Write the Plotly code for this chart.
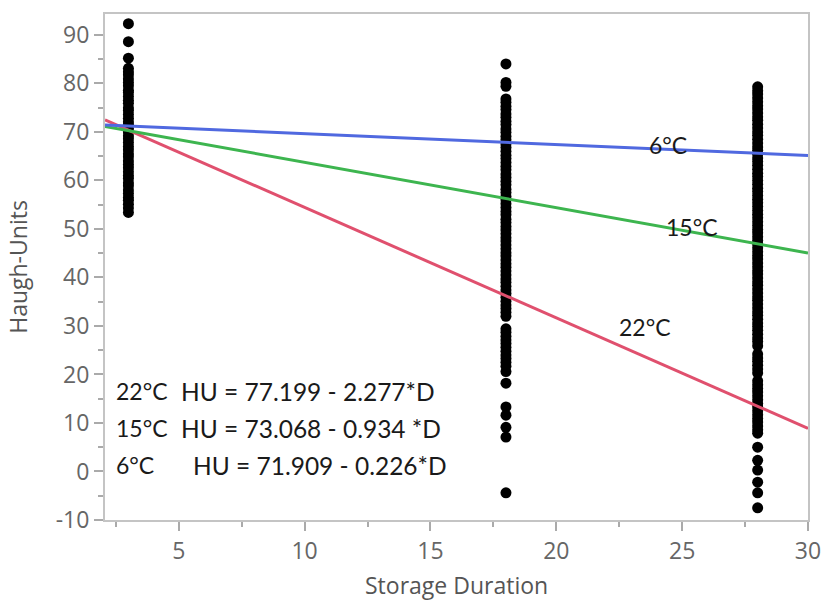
import plotly.graph_objects as go

# ---- data ----
durations = [3, 18, 28]

hu_day3 = [92.3, 88.6, 85.2, 83.1, 82.4, 81.8, 80.9, 80.2, 79.5, 78.6, 78.1, 77.3,
           76.5, 75.9, 75.0, 74.4, 73.6, 72.8, 72.1, 71.5, 70.7, 70.0, 69.2, 68.6,
           67.8, 67.0, 66.3, 65.5, 64.9, 64.0, 63.3, 62.6, 61.8, 61.0, 60.4, 59.5,
           58.9, 58.0, 57.3, 56.5, 55.9, 55.1, 54.3, 53.4]

hu_day18 = [84.0, 80.2, 79.4, 76.8, 76.1, 75.3, 74.6, 73.7, 73.0, 72.2, 71.5, 70.6,
            69.9, 69.1, 68.4, 67.5, 66.8, 66.0, 65.2, 64.5, 63.7, 62.9, 62.2, 61.3,
            60.6, 59.8, 59.1, 58.2, 57.5, 56.7, 56.0, 55.2, 54.4, 53.6, 52.9, 52.0,
            51.3, 50.5, 49.8, 49.0, 48.2, 47.5, 46.7, 45.9, 45.1, 44.4, 43.6, 42.8,
            42.1, 41.3, 40.5, 39.7, 39.0, 38.2, 37.4, 36.7, 35.9, 35.1, 34.3, 33.6,
            32.8, 32.0, 29.4, 28.7, 27.9, 27.1, 26.4, 25.6, 24.8, 24.0, 23.3, 22.5,
            21.7, 20.6, 18.2, 13.3, 11.6, 9.1, 7.1, -4.4]

hu_day28 = [79.3, 78.5, 77.8, 77.0, 76.2, 75.4, 74.7, 73.9, 73.1, 72.4, 71.6, 70.8,
            70.0, 69.3, 68.5, 67.7, 66.9, 66.2, 65.4, 64.6, 63.9, 63.1, 62.3, 61.5,
            60.8, 60.0, 59.2, 58.4, 57.7, 56.9, 56.1, 55.4, 54.6, 53.8, 53.0, 52.3,
            51.5, 50.7, 49.9, 49.2, 48.4, 47.6, 46.9, 46.1, 45.3, 44.5, 43.8, 43.0,
            42.2, 41.4, 40.7, 39.9, 39.1, 38.4, 37.6, 36.8, 36.0, 35.3, 34.5, 33.7,
            32.9, 32.2, 31.4, 30.6, 29.9, 29.1, 28.3, 27.5, 26.8, 25.9, 24.2, 23.4,
            22.7, 21.9, 21.1, 20.3, 18.7, 17.9, 17.1, 16.4, 15.6, 14.8, 14.0, 13.3,
            12.5, 11.7, 10.9, 10.2, 9.4, 8.6, 7.9, 5.0, 2.3, 0.3, -2.2, -4.4, -7.5]

temps = ["22°C", "15°C", "6°C"]
intercepts = [77.199, 73.068, 71.909]
slopes = [-2.277, -0.934, -0.226]
line_colors = ["#E0506E", "#3DB54F", "#5069E0"]
equation_text = ["HU = 77.199 - 2.277*D", "HU = 73.068 - 0.934 *D", "HU = 71.909 - 0.226*D"]

x_tickvals = [5, 10, 15, 20, 25, 30]
x_ticktext = ["5", "10", "15", "20", "25", "30"]
y_tickvals = [-10, 0, 10, 20, 30, 40, 50, 60, 70, 80, 90]
y_ticktext = ["-10", "0", "10", "20", "30", "40", "50", "60", "70", "80", "90"]

x_range = [2.07, 30]
y_range = [-10, 94.3]

fig = go.Figure()

for d, vals in zip(durations, [hu_day3, hu_day18, hu_day28]):
    fig.add_trace(go.Scatter(x=[d] * len(vals), y=vals, mode="markers",
                             marker=dict(color="black", size=11),
                             showlegend=False, hoverinfo="x+y"))

for t, a, b, c in zip(temps, intercepts, slopes, line_colors):
    xs = list(x_range)
    ys = [a + b * xv for xv in xs]
    fig.add_trace(go.Scatter(x=xs, y=ys, mode="lines", line=dict(color=c, width=3),
                             name=t, showlegend=False))

lab_font = dict(family="Lato, Carlito, sans-serif", size=23, color="#1a1a1a")
eq_font = dict(family="Lato, Carlito, sans-serif", size=24.5, color="#1a1a1a")

# equations block
eq_y = [16.5, 8.9, 1.3]
eq_x = [5.0, 5.0, 5.5]
for t, e, yv, xv in zip(temps, equation_text, eq_y, eq_x):
    fig.add_annotation(x=2.44, y=yv, text=t, showarrow=False, xanchor="left",
                       yanchor="middle", font=lab_font)
    fig.add_annotation(x=xv, y=yv, text=e, showarrow=False, xanchor="left",
                       yanchor="middle", font=eq_font)

# line labels
lab_x = [23.54, 25.40, 24.45]
lab_y = [29.7, 50.3, 67.2]
for t, xv, yv in zip(temps, lab_x, lab_y):
    fig.add_annotation(x=xv, y=yv, text=t, showarrow=False, xanchor="center",
                       yanchor="middle", font=lab_font)

tick_font = dict(family="Open Sans, sans-serif", size=23, color="#666666")
title_font = dict(family="Open Sans, sans-serif", size=23, color="#555555")

fig.add_annotation(xref="paper", yref="paper", x=-0.124, y=0.5, text="Haugh-Units",
                   textangle=-90, showarrow=False, font=title_font,
                   xanchor="center", yanchor="middle")
fig.add_annotation(xref="paper", yref="paper", x=0.5, y=-0.128, text="Storage Duration",
                   showarrow=False, font=title_font, xanchor="center", yanchor="middle")

axis_common = dict(showgrid=False, zeroline=False, showline=True, mirror=True,
                   linecolor="#c4c4c4", linewidth=2, ticks="outside", ticklen=9,
                   tickcolor="#aaaaaa", tickwidth=1.5, tickfont=tick_font)

fig.update_xaxes(range=x_range, tickmode="array", tickvals=x_tickvals, ticktext=x_ticktext,
                 minor=dict(ticks="outside", ticklen=5, dtick=2.5, tick0=0,
                            tickcolor="#aaaaaa", tickwidth=1.5, showgrid=False),
                 **axis_common)
fig.update_yaxes(range=y_range, tickmode="array", tickvals=y_tickvals, ticktext=y_ticktext,
                 minor=dict(ticks="outside", ticklen=5, dtick=5, tick0=0,
                            tickcolor="#aaaaaa", tickwidth=1.5, showgrid=False),
                 **axis_common)

fig.update_layout(width=833, height=605, margin=dict(l=105, r=19, t=13, b=85),
                  plot_bgcolor="white", paper_bgcolor="white")

fig.write_html("out.html")
